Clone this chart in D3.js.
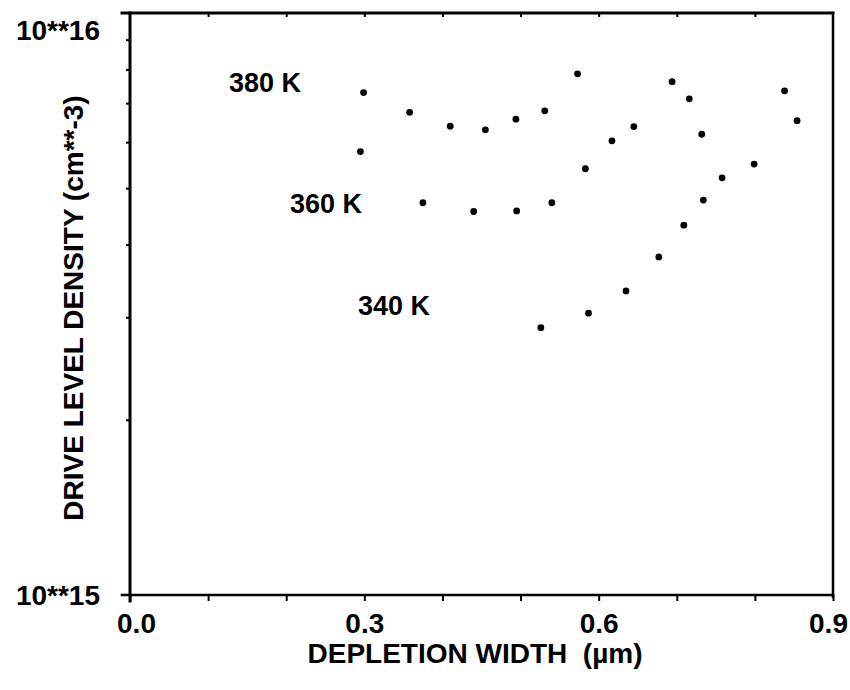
<!DOCTYPE html>
<html>
<head>
<meta charset="utf-8">
<script src="https://cdn.jsdelivr.net/npm/d3@7"></script>
<style>
  body { margin: 0; background: #fff; }
  text { font-family: "Liberation Sans", Arial, Helvetica, sans-serif; font-weight: bold; fill: #000; }
</style>
</head>
<body>
<div id="chart"></div>
<script>
// data (depletion width in um, density in cm^-3)
const x380 = [0.299, 0.358, 0.41, 0.455, 0.494, 0.531, 0.573, 0.694, 0.716, 0.838, 0.854];
const n380 = [7.30e15, 6.75e15, 6.39e15, 6.30e15, 6.57e15, 6.79e15, 7.86e15, 7.62e15, 7.12e15, 7.35e15, 6.53e15];
const x360 = [0.295, 0.375, 0.44, 0.495, 0.54, 0.583, 0.617, 0.645, 0.732];
const n360 = [5.78e15, 4.72e15, 4.56e15, 4.57e15, 4.72e15, 5.40e15, 6.03e15, 6.38e15, 6.19e15];
const x340 = [0.526, 0.587, 0.635, 0.677, 0.709, 0.734, 0.758, 0.799];
const n340 = [2.88e15, 3.05e15, 3.33e15, 3.81e15, 4.32e15, 4.77e15, 5.21e15, 5.50e15];
const seriesNames = ["380 K", "360 K", "340 K"];
const xTicks = [0, 0.1, 0.2, 0.3, 0.4, 0.5, 0.6, 0.7, 0.8, 0.9];
const xLabels = [0, 0.3, 0.6, 0.9];
const yMinor = [2e15, 3e15, 4e15, 5e15, 6e15, 7e15, 8e15, 9e15];
const yLabels = ["10**15", "10**16"];

const W = 850, H = 690;
const margin = { top: 13, right: 17, bottom: 95, left: 130 },
    width = W - margin.left - margin.right,
    height = H - margin.top - margin.bottom;

const svg = d3.select("#chart").append("svg")
    .attr("width", W).attr("height", H);
const g = svg.append("g").attr("transform", `translate(${margin.left},${margin.top})`);

const x = d3.scaleLinear().domain([0, 0.9]).range([0, width]);
const y = d3.scaleLog().domain([1e15, 1e16]).range([height, 0]);

// bottom axis with labels at 0.0 0.3 0.6 0.9
const xAxis = g.append("g")
    .attr("transform", `translate(0,${height})`)
    .call(d3.axisBottom(x).tickValues(xTicks).tickSizeInner(6).tickSizeOuter(0).tickPadding(12)
        .tickFormat((d) => xLabels.some((v) => Math.abs(v - d) < 1e-9) ? d3.format(".1f")(d) : ""));
xAxis.select(".domain").remove();
xAxis.selectAll("line").attr("stroke", "#000").attr("stroke-width", 2);
xAxis.selectAll("text").style("font-size", "28px").attr("font-family", null)
    .attr("dx", (d) => d === 0 ? 6 : (d > 0.85 ? -5 : 0));

// top axis, ticks inside
const topAxis = g.append("g")
    .call(d3.axisBottom(x).tickValues(xTicks.slice(1, -1)).tickSizeInner(4).tickSizeOuter(0).tickFormat(""));
topAxis.select(".domain").remove();
topAxis.selectAll("line").attr("stroke", "#000").attr("stroke-width", 2);

// left axis, minor ticks outside
const yAxis = g.append("g")
    .call(d3.axisLeft(y).tickValues(yMinor).tickSizeInner(4).tickSizeOuter(0).tickFormat(""));
yAxis.select(".domain").remove();
yAxis.selectAll("line").attr("stroke", "#000").attr("stroke-width", 2);

// frame
const frame = g.append("g").attr("stroke", "#000").attr("stroke-linecap", "square");
frame.append("line").attr("x1", -8).attr("x2", width).attr("y1", 0).attr("y2", 0).attr("stroke-width", 3);
frame.append("line").attr("x1", -8).attr("x2", width).attr("y1", height).attr("y2", height).attr("stroke-width", 2.5);
frame.append("line").attr("x1", 0).attr("x2", 0).attr("y1", 0).attr("y2", height + 6).attr("stroke-width", 3);
frame.append("line").attr("x1", width).attr("x2", width).attr("y1", 0).attr("y2", height + 2).attr("stroke-width", 2.5);

// y labels
g.append("text").attr("x", -30).attr("y", y(1e15) + 10)
    .attr("text-anchor", "end").style("font-size", "28px").text(yLabels[0]);
g.append("text").attr("x", -30).attr("y", y(1e16) + 27)
    .attr("text-anchor", "end").style("font-size", "28px").text(yLabels[1]);

// axis titles
svg.append("text")
    .attr("transform", `translate(83,${margin.top + height / 2 + 4}) rotate(-90)`)
    .attr("text-anchor", "middle").style("font-size", "28px")
    .text("DRIVE LEVEL DENSITY (cm**-3)");
svg.append("text")
    .attr("x", 475).attr("y", 663)
    .attr("text-anchor", "middle").style("font-size", "28px")
    .style("white-space", "pre")
    .text("DEPLETION WIDTH  (\u00b5m)");

// points
const series = [
    { name: seriesNames[0], xs: x380, ns: n380 },
    { name: seriesNames[1], xs: x360, ns: n360 },
    { name: seriesNames[2], xs: x340, ns: n340 }
];
series.forEach((s) => {
    g.append("g").selectAll("circle")
        .data(s.xs.map((v, i) => ({ x: v, n: s.ns[i] })))
        .enter()
        .append("circle")
        .attr("cx", (d) => x(d.x))
        .attr("cy", (d) => y(d.n))
        .attr("r", 3.4)
        .attr("fill", "#000");
});

// temperature labels
const labelPos = [
    { x: 229, y: 92, anchor: "start" },
    { x: 362, y: 213, anchor: "end" },
    { x: 358, y: 315, anchor: "start" }
];
labelPos.forEach((p, i) => {
    svg.append("text").attr("x", p.x).attr("y", p.y)
        .attr("text-anchor", p.anchor).style("font-size", "27px")
        .text(seriesNames[i]);
});
</script>
</body>
</html>
